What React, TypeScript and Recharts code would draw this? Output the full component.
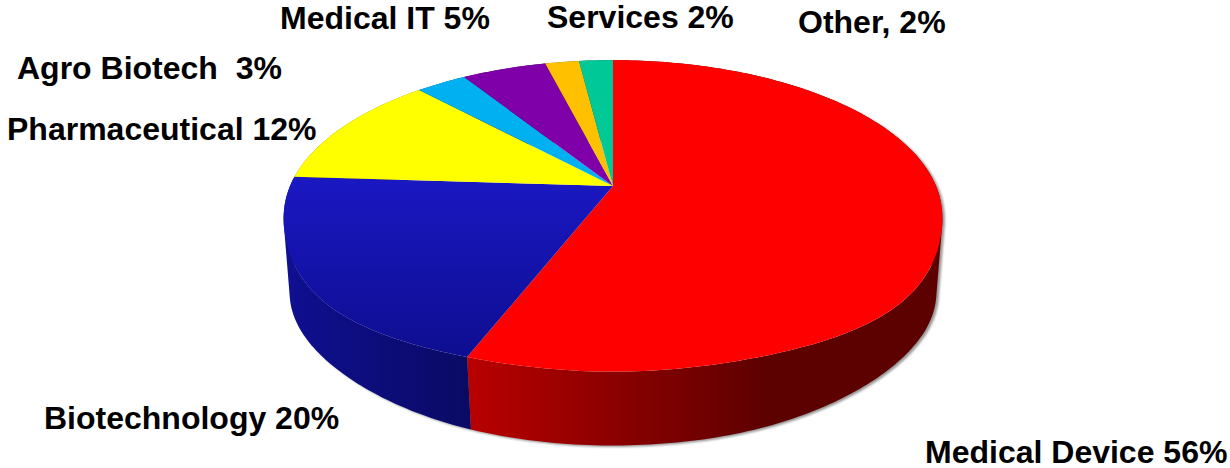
import { Pie, PieChart } from "recharts";

const SECTORS = [
  "Medical Device",
  "Biotechnology",
  "Pharmaceutical",
  "Agro Biotech",
  "Medical IT",
  "Services",
  "Other",
];
const SHARES = [56, 20, 12, 3, 5, 2, 2];
const LABELS = [
  "Medical Device 56%",
  "Biotechnology 20%",
  "Pharmaceutical 12%",
  "Agro Biotech  3%",
  "Medical IT 5%",
  "Services 2%",
  "Other, 2%",
];
const TOP_FILLS = [
  "#ff0000",
  "url(#blueTop)",
  "#ffff00",
  "#00b0f0",
  "#7f00a8",
  "#ffc000",
  "#00c896",
];
const WALL_FILLS = [
  "url(#redWall)",
  "url(#blueWall)",
  "#808000",
  "#005880",
  "#400054",
  "#806000",
  "#006448",
];

// label anchor points (left edge, baseline)
const LABEL_POS = [
  [925, 463],
  [44, 429],
  [7, 140],
  [17, 79],
  [280, 29],
  [547, 28],
  [798, 33],
];

const data = SECTORS.map((name, i) => ({
  name,
  value: SHARES[i],
  fill: TOP_FILLS[i],
  wall: WALL_FILLS[i],
  label: LABELS[i],
}));

const RADIUS = 150;
const TILT = 0.192; // perspective, the far side of the disc is foreshortened
const STRETCH = 323 / 150;
const WALL_SCALE = 0.983;
const WALL_DROP = 77;
const TOP_BULGE = 0.035; // the near corners of the face are a bit fuller than an ellipse
const WALL_BULGE = -0.01;

// maps a point of the flat pie onto the tilted disc
function project(cx: number, cy: number, deg: number, scale = 1, drop = 0, bulge = 0) {
  const a = (deg * Math.PI) / 180;
  const u = Math.cos(a);
  const v = Math.sin(a);
  const w = 1 + TILT * v;
  const s2 = Math.sin(2 * a);
  const k = v < 0 ? 1 + bulge * s2 * s2 * s2 * s2 : 1;
  return [
    cx + (k * scale * STRETCH * RADIUS * u) / w,
    cy + drop - (k * scale * RADIUS * v) / w,
  ];
}

function arcPoints(p: any, scale = 1, drop = 0, bulge = 0) {
  const steps = Math.max(2, Math.ceil(Math.abs(p.startAngle - p.endAngle)));
  const pts: number[][] = [];
  for (let i = 0; i <= steps; i++) {
    const deg = p.startAngle + ((p.endAngle - p.startAngle) * i) / steps;
    pts.push(project(p.cx, p.cy, deg, scale, drop, bulge));
  }
  return pts;
}

const toPath = (pts: number[][]) =>
  "M" + pts.map((q) => q[0].toFixed(1) + "," + q[1].toFixed(1)).join("L") + "Z";

function TopSlice(props: any) {
  const pts = [[props.cx, props.cy], ...arcPoints(props, 1, 0, TOP_BULGE)];
  return <path d={toPath(pts)} fill={props.fill} stroke="none" />;
}

// the wall is swept quad by quad, all wound the same way so that they add up
function wallPath(props: any) {
  const top = arcPoints(props, 1, 0, TOP_BULGE);
  const bottom = arcPoints(props, WALL_SCALE, WALL_DROP, WALL_BULGE);
  let d = "";
  for (let i = 0; i < top.length - 1; i++) {
    const quad = [top[i], top[i + 1], bottom[i + 1], bottom[i]];
    let area = 0;
    quad.forEach((q, j) => {
      const n = quad[(j + 1) % 4];
      area += q[0] * n[1] - n[0] * q[1];
    });
    d += toPath(area < 0 ? quad.reverse() : quad);
  }
  return d;
}

function WallSlice(props: any) {
  return <path d={wallPath(props)} fill={props.wall} stroke="none" />;
}

function ShadowSlice(props: any) {
  return (
    <path
      d={wallPath(props)}
      fill="#000"
      fillOpacity={0.4}
      transform="translate(2.5 1.5)"
      filter="url(#softEdge)"
    />
  );
}

function SliceLabel(props: any) {
  const pos = LABEL_POS[props.index];
  return (
    <text
      x={pos[0]}
      y={pos[1]}
      fontFamily="Liberation Sans"
      fontWeight="bold"
      fontSize={32}
      fill="#000"
      style={{ whiteSpace: "pre" }}
    >
      {LABELS[props.index]}
    </text>
  );
}

export default function App() {
  const pieProps = {
    data,
    dataKey: "value",
    nameKey: "name",
    cx: 613,
    cy: 186,
    outerRadius: RADIUS,
    startAngle: 90,
    endAngle: -270,
    stroke: "none",
    isAnimationActive: false,
  };
  return (
    <div style={{ position: "fixed", left: 0, top: 0, width: 1230, height: 468, background: "#fff" }}>
      <PieChart width={1230} height={468} margin={{ top: 0, right: 0, bottom: 0, left: 0 }}>
        <defs>
          <linearGradient id="blueTop" gradientUnits="userSpaceOnUse" x1="0" y1="178" x2="0" y2="352">
            <stop offset="0" stopColor="#1a18c2" />
            <stop offset="1" stopColor="#0e0e92" />
          </linearGradient>
          <linearGradient id="blueWall" gradientUnits="userSpaceOnUse" x1="290" y1="0" x2="472" y2="0">
            <stop offset="0" stopColor="#0f0f90" />
            <stop offset="1" stopColor="#0a0a64" />
          </linearGradient>
          <linearGradient id="redWall" gradientUnits="userSpaceOnUse" x1="470" y1="0" x2="770" y2="0">
            <stop offset="0" stopColor="#b80000" />
            <stop offset="1" stopColor="#5c0000" />
          </linearGradient>
          <filter id="softEdge" x="-10%" y="-10%" width="120%" height="120%">
            <feGaussianBlur stdDeviation="1.2" />
          </filter>
        </defs>
        <Pie {...pieProps} shape={ShadowSlice} />
        <Pie {...pieProps} shape={WallSlice} />
        <Pie {...pieProps} shape={TopSlice} labelLine={false} label={SliceLabel} />
      </PieChart>
    </div>
  );
}
